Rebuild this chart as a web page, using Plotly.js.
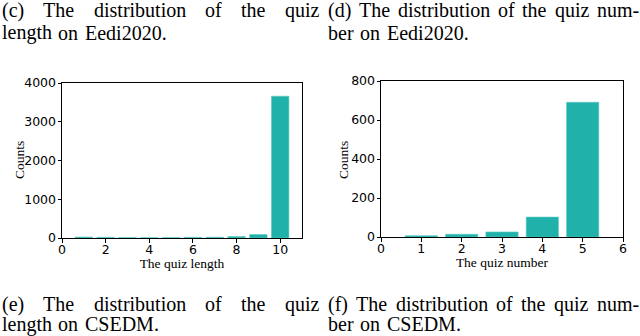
<!DOCTYPE html>
<html>
<head>
<meta charset="utf-8">
<script src="https://cdn.plot.ly/plotly-3.0.1.min.js"></script>
<style>
  body { margin: 0; background: #fff; }
  #graph { width: 640px; height: 336px; }
</style>
</head>
<body>
<div id="graph"></div>
<script>
// data
var quizLength = [1, 2, 3, 4, 5, 6, 7, 8, 9, 10];
var lengthCounts = [25, 18, 12, 8, 10, 18, 20, 38, 90, 3660];
var quizNumber = [1, 2, 3, 4, 5];
var numberCounts = [7, 14, 26, 102, 691];

var lengthTicks = [0, 2, 4, 6, 8, 10];
var lengthCountTicks = [0, 1000, 2000, 3000, 4000];
var numberTicks = [0, 1, 2, 3, 4, 5, 6];
var numberCountTicks = [0, 200, 400, 600, 800];

// captions: [lines], the last line of each is not justified
var captionC = ["(c) The distribution of the quiz", "length on Eedi2020."];
var captionD = ["(d) The distribution of the quiz num-", "ber on Eedi2020."];
var captionE = ["(e) The distribution of the quiz", "length on CSEDM."];
var captionF = ["(f) The distribution of the quiz num-", "ber on CSEDM."];

var W = 640, H = 336;
var barColor = '#20b2aa';
var capFont = 'Liberation Serif';
var capSize = 20;

// measure words so the caption lines can be justified like in the paper
var ctx = document.createElement('canvas').getContext('2d');
ctx.font = capSize + 'px "' + capFont + '"';

function captionAnnotations(lines, left, right, topY, lineGap) {
    var out = [];
    lines.forEach(function(line, i) {
        var y = topY + i * lineGap;
        var words = line.split(' ');
        var last = i == lines.length - 1;
        var widths = words.map(function(w) { return ctx.measureText(w).width; });
        var total = widths.reduce(function(a, b) { return a + b; }, 0);
        var gap = last ? ctx.measureText(' ').width * 1.3 : (right - left - total) / (words.length - 1);
        var x = left;
        for (var k = 0; k < words.length; k++) {
            out.push({
                text: words[k], xref: 'paper', yref: 'paper',
                x: x / W, y: 1 - y / H, xanchor: 'left', yanchor: 'middle',
                showarrow: false, borderpad: 0,
                font: {family: capFont, size: capSize, color: '#000'}
            });
            x += widths[k] + gap;
        }
    });
    return out;
}

function axisStyle(extra) {
    var base = {
        showline: true, mirror: true, linecolor: '#000', linewidth: 1,
        showgrid: false, zeroline: false,
        ticks: 'outside', ticklen: 3.5, tickcolor: '#000', tickwidth: 1,
        tickfont: {family: 'DejaVu Sans', size: 12.5, color: '#000'}
    };
    for (var k in extra) base[k] = extra[k];
    return base;
}

var trace1 = {
    type: 'bar', x: quizLength, y: lengthCounts, width: 0.8,
    marker: {color: barColor, line: {color: '#5cc9c2', width: 0.6}},
    xaxis: 'x', yaxis: 'y', hoverinfo: 'none'
};
var trace2 = {
    type: 'bar', x: quizNumber, y: numberCounts, width: 0.8,
    marker: {color: barColor, line: {color: '#5cc9c2', width: 0.6}},
    xaxis: 'x2', yaxis: 'y2', hoverinfo: 'none'
};

var titleFont = {family: capFont, size: 13.5, color: '#000'};

// y axis titles placed by hand, plotly puts them too far out
function countsTitle(px) {
    return {
        text: 'Counts', xref: 'paper', yref: 'paper', x: px / W, y: 1 - 160 / H,
        xanchor: 'center', yanchor: 'middle', textangle: -90,
        showarrow: false, borderpad: 0, font: titleFont
    };
}

var annotations = []
    .concat(captionAnnotations(captionC, 1, 318, 10, 23))
    .concat(captionAnnotations(captionD, 327, 638, 10, 23))
    .concat(captionAnnotations(captionE, 1, 318, 304, 20))
    .concat(captionAnnotations(captionF, 327, 638, 304, 20))
    .concat([countsTitle(19), countsTitle(343)]);

var layout = {
    width: W, height: H,
    margin: {l: 0, r: 0, t: 0, b: 0},
    paper_bgcolor: '#fff', plot_bgcolor: '#fff',
    showlegend: false,
    xaxis: axisStyle({
        domain: [62 / W, 302 / W], range: [0, 11], anchor: 'y',
        tickvals: lengthTicks, ticktext: lengthTicks.map(String),
        ticklabelstandoff: -4,
        title: {text: 'The quiz length', font: titleFont, standoff: 0}
    }),
    yaxis: axisStyle({
        domain: [1 - 238 / H, 1 - 83 / H], range: [0, 4000], anchor: 'x',
        tickvals: lengthCountTicks, ticktext: lengthCountTicks.map(String),
        ticklabelstandoff: -1
    }),
    xaxis2: axisStyle({
        domain: [381 / W, 623 / W], range: [0, 6], anchor: 'y2',
        tickvals: numberTicks, ticktext: numberTicks.map(String),
        ticklabelstandoff: -4,
        title: {text: 'The quiz number', font: titleFont, standoff: 0}
    }),
    yaxis2: axisStyle({
        domain: [1 - 237 / H, 1 - 81 / H], range: [0, 800], anchor: 'x2',
        tickvals: numberCountTicks, ticktext: numberCountTicks.map(String),
        ticklabelstandoff: -1
    }),
    annotations: annotations
};

Plotly.newPlot('graph', [trace1, trace2], layout, {staticPlot: true});
</script>
</body>
</html>
